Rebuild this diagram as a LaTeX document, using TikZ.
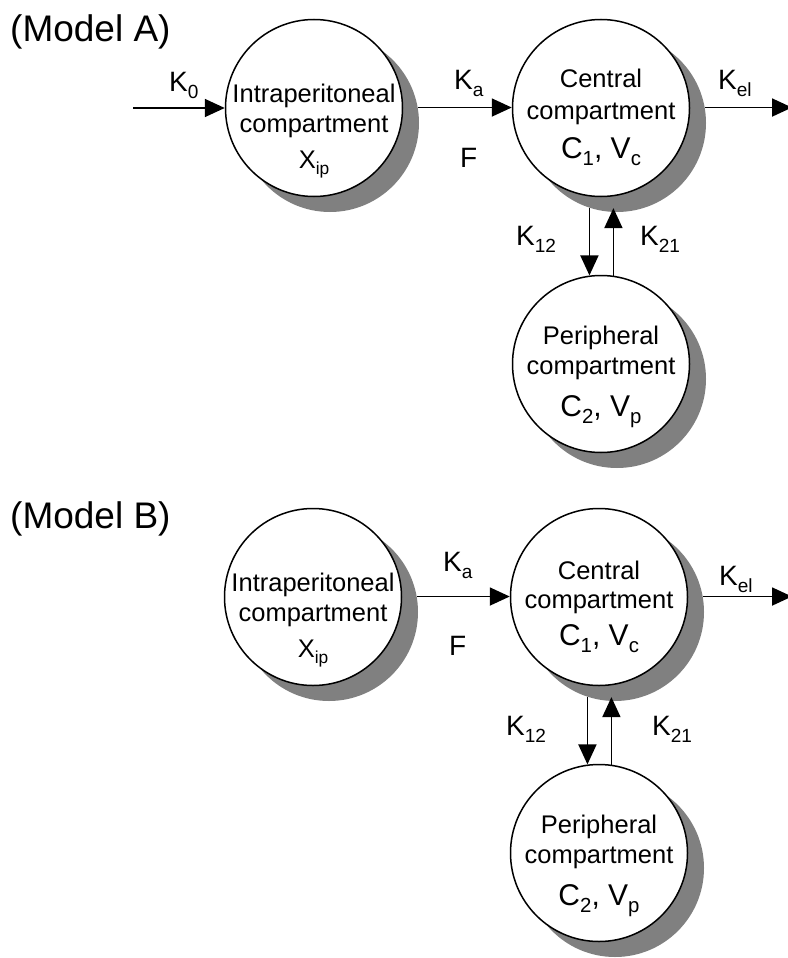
\documentclass[tikz,border=0pt]{standalone}
\usepackage{fontspec}
\setmainfont{Liberation Sans}
\usepackage{graphicx}
\usetikzlibrary{arrows.meta}
\definecolor{shadowgray}{RGB}{128,128,128}
\newcommand\lo[1]{\raisebox{-0.25em}{\scalebox{0.68}{#1}}}
\tikzset{
  comp/.style={circle, draw=black, line width=1.5pt, fill=white, minimum size=177pt, inner sep=0pt},
  shad/.style={circle, fill=shadowgray, draw=none, minimum size=178pt, inner sep=0pt},
  arr/.style={line width=1.8pt, -{Triangle[length=20pt,width=18pt]}},
  ctext/.style={font=\fontsize{25.5}{30}\selectfont, anchor=base, inner sep=0pt},
  bigtext/.style={font=\fontsize{30}{36}\selectfont, anchor=base, inner sep=0pt},
  klab/.style={font=\fontsize{28}{33}\selectfont, anchor=base west, inner sep=0pt},
  title/.style={font=\fontsize{37}{44}\selectfont, anchor=base west, inner sep=0pt},
}
\begin{document}
\begin{tikzpicture}[x=1pt,y=-1pt]
\useasboundingbox (0,0) rectangle (787,958);

% ================= Model A =================
\node[title] (titleA) at (10,42) {(Model A)};

\node[shad] (ipAs) at (330,123) {};
\node[shad] (cAs) at (617,123) {};
\node[shad] (pAs) at (617,379) {};
\node[comp] (ipA) at (314,108) {};
\node[comp] (cA) at (601,108) {};
\node[comp] (pA) at (601,364) {};

\node[ctext] (ipA1) at (314,102) {Intraperitoneal};
\node[ctext] (ipA2) at (314,132) {compartment};
\node[ctext] (ipA3) at (314,168) {X\lo{ip}};

\node[ctext] (cA1) at (601,88) {Central};
\node[ctext] (cA2) at (601,119) {compartment};
\node[bigtext] (cA3) at (601,158) {C\lo{1}, V\lo{c}};

\node[ctext] (pA1) at (601,344) {Peripheral};
\node[ctext] (pA2) at (601,374) {compartment};
\node[bigtext] (pA3) at (601,416) {C\lo{2}, V\lo{p}};

\coordinate (inA) at (133,108);
\coordinate (outA) at (792,108);

\draw[arr] (inA) -- (ipA);
\draw[arr] (ipAs.10) -- (ipAs.10 -| cA.west);
\draw[arr] (cAs.10) -- (cAs.10 -| outA);
\draw[arr] (cAs.252) -- (cAs.252 |- pA.97);
\draw[arr, shorten >=-4pt] (pA.82) -- (pA.82 |- cAs.268);

\node[klab] (k0A) at (169,91) {K\lo{0}};
\node[klab] (kaA) at (454,89) {K\lo{a}};
\node[klab] (fA) at (460,167) {F};
\node[klab] (kelA) at (718,89) {K\lo{el}};
\node[klab] (k12A) at (516,245) {K\lo{12}};
\node[klab] (k21A) at (640,245) {K\lo{21}};

% ================= Model B =================
\node[title] (titleB) at (10,528) {(Model B)};

\node[shad] (ipBs) at (329,612) {};
\node[shad] (cBs) at (615,612) {};
\node[shad] (pBs) at (615,868) {};
\node[comp] (ipB) at (313,597) {};
\node[comp] (cB) at (599,597) {};
\node[comp] (pB) at (599,853) {};

\node[ctext] (ipB1) at (313,591) {Intraperitoneal};
\node[ctext] (ipB2) at (313,621) {compartment};
\node[ctext] (ipB3) at (313,657) {X\lo{ip}};

\node[ctext] (cB1) at (599,579) {Central};
\node[ctext] (cB2) at (599,608) {compartment};
\node[bigtext] (cB3) at (599,645) {C\lo{1}, V\lo{c}};

\node[ctext] (pB1) at (599,833) {Peripheral};
\node[ctext] (pB2) at (599,863) {compartment};
\node[bigtext] (pB3) at (599,905) {C\lo{2}, V\lo{p}};

\coordinate (outB) at (792,597);

\draw[arr] (ipBs.10) -- (ipBs.10 -| cB.west);
\draw[arr] (cBs.10) -- (cBs.10 -| outB);
\draw[arr] (cBs.252) -- (cBs.252 |- pB.97);
\draw[arr, shorten >=-4pt] (pB.82) -- (pB.82 |- cBs.268);

\node[klab] (kaB) at (443,571) {K\lo{a}};
\node[klab] (fB) at (449,655) {F};
\node[klab] (kelB) at (719,585) {K\lo{el}};
\node[klab] (k12B) at (506,735) {K\lo{12}};
\node[klab] (k21B) at (652,735) {K\lo{21}};
\end{tikzpicture}
\end{document}
